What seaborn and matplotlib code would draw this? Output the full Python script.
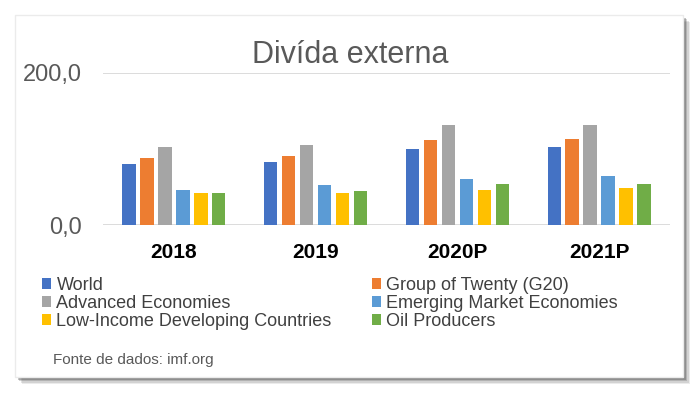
import matplotlib
matplotlib.use("Agg")
import matplotlib.pyplot as plt
import matplotlib.patches as mpatches
import pandas as pd
import seaborn as sns

years = ["2018", "2019", "2020P", "2021P"]
series = [
    "World",
    "Group of Twenty (G20)",
    "Advanced Economies",
    "Emerging Market Economies",
    "Low-Income Developing Countries",
    "Oil Producers",
]
world = [80, 82.5, 100, 103]
g20 = [88, 90, 111, 113.5]
advanced = [103, 105.5, 131.5, 131.5]
emerging = [46, 52, 61, 64.5]
low_income = [42, 42, 46, 48.5]
oil = [42, 44, 54, 54]
colors = ["#4472C4", "#ED7D31", "#A5A5A5", "#5B9BD5", "#FFC000", "#70AD47"]

rows = []
for name, vals in zip(series, [world, g20, advanced, emerging, low_income, oil]):
    for y, v in zip(years, vals):
        rows.append({"ano": y, "serie": name, "valor": v})
df = pd.DataFrame(rows)

sns.set_style("white")
plt.rcParams["font.family"] = ["Liberation Sans", "DejaVu Sans"]

W, H = 700, 396
fig = plt.figure(figsize=(7, 3.96), dpi=100)

# frame with a soft shadow
def fx(px):
    return px / W

def fy(py):
    return 1 - py / H

for i, a in enumerate([0.10, 0.15, 0.22, 0.32]):
    off = 7 - i * 1.5
    fig.patches.append(mpatches.Rectangle((fx(15 + off), fy(377 + off)), fx(668), 362 / H,
                                          transform=fig.transFigure, facecolor="#444444",
                                          edgecolor="none", alpha=a, zorder=0))
fig.patches.append(mpatches.Rectangle((fx(15), fy(377)), fx(668), 362 / H,
                                      transform=fig.transFigure, facecolor="white",
                                      edgecolor="#EBEBEB", linewidth=1, zorder=1))

ax = fig.add_axes([fx(103), fy(225), fx(670) - fx(103), fy(72.7) - fy(225)])
ax.set_zorder(2)
ax.patch.set_alpha(0)
sns.barplot(data=df, x="ano", y="valor", hue="serie", palette=colors, saturation=1,
            width=0.76, gap=0.25, linewidth=0, ax=ax)
handles, labels = ax.get_legend_handles_labels()
ax.get_legend().remove()

ax.set_ylim(0, 200)
ax.set_yticks([0, 200])
ax.set_yticklabels(["0,0", "200,0"], fontsize=17, color="#595959")
ax.set_xlabel("")
ax.set_ylabel("")
ax.tick_params(axis="x", length=0, pad=13, labelsize=15, labelcolor="#000000")
ax.tick_params(axis="y", length=0, pad=15)
for t in ax.get_xticklabels():
    t.set_fontweight("bold")
ax.yaxis.grid(True, color="#D9D9D9", linewidth=1.3)
ax.set_axisbelow(True)
for s in ax.spines.values():
    s.set_visible(False)

fig.text(0.5, fy(55), "Divída externa", ha="center", va="center",
         fontsize=22, color="#595959")

leg_kw = dict(frameon=False, fontsize=13, handlelength=0.5, handleheight=0.5,
              handletextpad=0.3, labelspacing=0.05, borderpad=0, borderaxespad=0,
              labelcolor="#404040", loc="upper left")
fig.legend([handles[0], handles[2], handles[4]], [labels[0], labels[2], labels[4]],
           bbox_to_anchor=(fx(42), fy(277)), **leg_kw)
fig.legend([handles[1], handles[3], handles[5]], [labels[1], labels[3], labels[5]],
           bbox_to_anchor=(fx(372), fy(277)), **leg_kw)

fig.text(fx(53), fy(360), "Fonte de dados: imf.org", ha="left", va="center",
         fontsize=11, color="#595959")

fig.savefig("out.png", dpi=100)
